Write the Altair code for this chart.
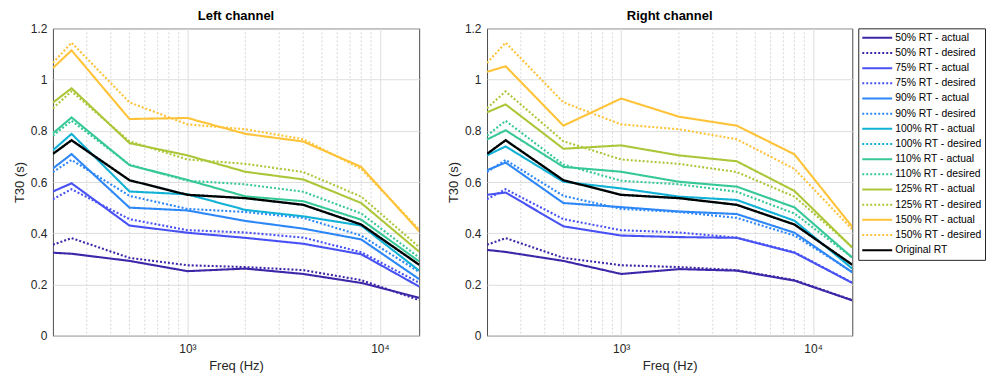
import altair as alt
import pandas as pd

# ---------------- data ----------------
FREQ = [200, 250, 500, 1000, 2000, 4000, 8000, 16000]

SERIES = [
    "50% RT - actual", "50% RT - desired",
    "75% RT - actual", "75% RT - desired",
    "90% RT - actual", "90% RT - desired",
    "100% RT - actual", "100% RT - desired",
    "110% RT - actual", "110% RT - desired",
    "125% RT - actual", "125% RT - desired",
    "150% RT - actual", "150% RT - desired",
    "Original RT",
]

# Original RT (both channels)
ORIGINAL = [0.710, 0.763, 0.607, 0.550, 0.537, 0.511, 0.434, 0.277]

# Desired curves (both channels)
DES_50 = [0.355, 0.381, 0.304, 0.275, 0.268, 0.256, 0.217, 0.139]
DES_75 = [0.533, 0.572, 0.455, 0.412, 0.403, 0.383, 0.326, 0.207]
DES_90 = [0.639, 0.686, 0.546, 0.495, 0.483, 0.460, 0.391, 0.249]
DES_100 = [0.710, 0.763, 0.607, 0.550, 0.537, 0.511, 0.434, 0.277]
DES_110 = [0.781, 0.839, 0.668, 0.605, 0.591, 0.562, 0.477, 0.305]
DES_125 = [0.888, 0.954, 0.759, 0.688, 0.671, 0.639, 0.543, 0.346]
DES_150 = [1.065, 1.144, 0.911, 0.825, 0.806, 0.767, 0.651, 0.415]

# Left channel actual
L_ACT_50 = [0.324, 0.320, 0.292, 0.252, 0.262, 0.241, 0.206, 0.148]
L_ACT_75 = [0.563, 0.595, 0.430, 0.402, 0.382, 0.359, 0.318, 0.192]
L_ACT_90 = [0.653, 0.709, 0.500, 0.489, 0.448, 0.418, 0.376, 0.221]
L_ACT_100 = [0.724, 0.788, 0.563, 0.552, 0.491, 0.466, 0.430, 0.254]
L_ACT_110 = [0.790, 0.852, 0.666, 0.608, 0.544, 0.525, 0.453, 0.290]
L_ACT_125 = [0.910, 0.966, 0.752, 0.704, 0.640, 0.610, 0.518, 0.328]
L_ACT_150 = [1.045, 1.114, 0.846, 0.850, 0.788, 0.758, 0.659, 0.408]

# Right channel actual
R_ACT_50 = [0.335, 0.327, 0.292, 0.241, 0.260, 0.254, 0.215, 0.138]
R_ACT_75 = [0.550, 0.559, 0.427, 0.391, 0.385, 0.382, 0.324, 0.206]
R_ACT_90 = [0.646, 0.676, 0.518, 0.502, 0.485, 0.475, 0.402, 0.247]
R_ACT_100 = [0.704, 0.739, 0.601, 0.575, 0.543, 0.530, 0.449, 0.262]
R_ACT_110 = [0.766, 0.802, 0.659, 0.640, 0.601, 0.582, 0.501, 0.305]
R_ACT_125 = [0.872, 0.903, 0.730, 0.743, 0.704, 0.681, 0.565, 0.344]
R_ACT_150 = [1.030, 1.052, 0.820, 0.926, 0.855, 0.820, 0.708, 0.425]

MINOR_GRID = [300, 400, 500, 600, 700, 800, 900,
              2000, 3000, 4000, 5000, 6000, 7000, 8000, 9000]
Y_TICKS = [0, 0.2, 0.4, 0.6, 0.8, 1.0, 1.2]
X_TICKS = [1000, 10000]

# ---------------- styles ----------------
PCT_COLORS = ["#3e26a8", "#4852f4", "#2d87f7", "#12b1d6", "#37c897", "#abc739", "#fec338"]
COLORS = []
DASHES = []
for c in PCT_COLORS:
    COLORS += [c, c]
    DASHES += [[1, 0], [2, 2]]
COLORS.append("#000000")
DASHES.append([1, 0])

FONT = "Liberation Sans"
AX = "#262626"

# ---------------- table ----------------
left = {
    "50% RT - actual": L_ACT_50, "50% RT - desired": DES_50,
    "75% RT - actual": L_ACT_75, "75% RT - desired": DES_75,
    "90% RT - actual": L_ACT_90, "90% RT - desired": DES_90,
    "100% RT - actual": L_ACT_100, "100% RT - desired": DES_100,
    "110% RT - actual": L_ACT_110, "110% RT - desired": DES_110,
    "125% RT - actual": L_ACT_125, "125% RT - desired": DES_125,
    "150% RT - actual": L_ACT_150, "150% RT - desired": DES_150,
    "Original RT": ORIGINAL,
}
right = {
    "50% RT - actual": R_ACT_50, "50% RT - desired": DES_50,
    "75% RT - actual": R_ACT_75, "75% RT - desired": DES_75,
    "90% RT - actual": R_ACT_90, "90% RT - desired": DES_90,
    "100% RT - actual": R_ACT_100, "100% RT - desired": DES_100,
    "110% RT - actual": R_ACT_110, "110% RT - desired": DES_110,
    "125% RT - actual": R_ACT_125, "125% RT - desired": DES_125,
    "150% RT - actual": R_ACT_150, "150% RT - desired": DES_150,
    "Original RT": ORIGINAL,
}

rows = []
for ch, d in (("L", left), ("R", right)):
    for s in SERIES:
        for f, v in zip(FREQ, d[s]):
            rows.append({"channel": ch, "series": s, "freq": f, "t30": v})
df = pd.DataFrame(rows)
grid_df = pd.DataFrame({"f": MINOR_GRID})

x_scale = alt.Scale(type="log", domain=[200, 16000], nice=False)
y_scale = alt.Scale(domain=[0, 1.2], nice=False)
color_scale = alt.Scale(domain=SERIES, range=COLORS)
dash_scale = alt.Scale(domain=SERIES, range=DASHES)

x_axis = alt.Axis(
    values=X_TICKS,
    labelExpr="datum.value == 1000 ? '10³' : '10⁴'",
    grid=True, gridColor="#dedede", gridWidth=1,
    ticks=False, tickSize=0, domain=False,
    labelPadding=8, titlePadding=5,
    labelFontSize=12, titleFontSize=13,
    labelColor=AX, titleColor=AX, titleFontWeight="normal",
    labelFlush=False, labelFont=FONT, titleFont=FONT,
)
y_axis = alt.Axis(
    values=Y_TICKS, format=".1~f",
    grid=True, gridColor="#dedede", gridWidth=1,
    ticks=False, tickSize=0, domain=False,
    labelPadding=6, titlePadding=4,
    labelFontSize=12, titleFontSize=13,
    labelColor=AX, titleColor=AX, titleFontWeight="normal",
    labelFont=FONT, titleFont=FONT,
)


def panel(ch, title, width):
    d = df[df["channel"] == ch]
    X = lambda fld: alt.X(fld, scale=x_scale, axis=x_axis, title="Freq (Hz)")
    Y = alt.Y("t30:Q", scale=y_scale, axis=y_axis, title="T30 (s)")
    minor = alt.Chart(grid_df).mark_rule(
        color="#cfcfcf", strokeDash=[2, 2], strokeWidth=0.8
    ).encode(x=X("f:Q"))
    color = alt.Color("series:N", scale=color_scale, sort=SERIES, title=None)
    dash = alt.StrokeDash("series:N", scale=dash_scale, sort=SERIES, title=None)
    lines = alt.Chart(d[d["series"] != "Original RT"]).mark_line(
        strokeWidth=2.1, clip=True, strokeCap="butt"
    ).encode(x=X("freq:Q"), y=Y, color=color, strokeDash=dash)
    orig = alt.Chart(d[d["series"] == "Original RT"]).mark_line(
        strokeWidth=2.3, clip=True
    ).encode(x=X("freq:Q"), y=Y, color=color, strokeDash=dash)
    return alt.layer(minor, lines, orig).properties(
        width=width, height=308,
        title=alt.TitleParams(title, fontSize=13, fontWeight="bold", font=FONT,
                              color="#000000", offset=-0.5),
    )


chart = alt.hconcat(
    panel("L", "Left channel", 367),
    panel("R", "Right channel", 366),
    spacing=26,
).resolve_scale(
    color="shared", strokeDash="shared"
).properties(
    padding={"left": 4, "top": 1, "right": 0, "bottom": 0}
).configure(
    font=FONT
).configure_view(
    stroke="#4d4d4d", strokeWidth=1
).configure_legend(
    orient="right", offset=5, padding=3,
    strokeColor=AX, fillColor="white",
    symbolType="stroke", symbolSize=900, symbolStrokeWidth=2,
    clipHeight=13, rowPadding=2.2,
    labelFontSize=10.4, labelFont=FONT, labelColor="#000000", labelOffset=2,
    labelLimit=200,
)

chart.save("out.html", embed_options={"renderer": "svg", "actions": False})
